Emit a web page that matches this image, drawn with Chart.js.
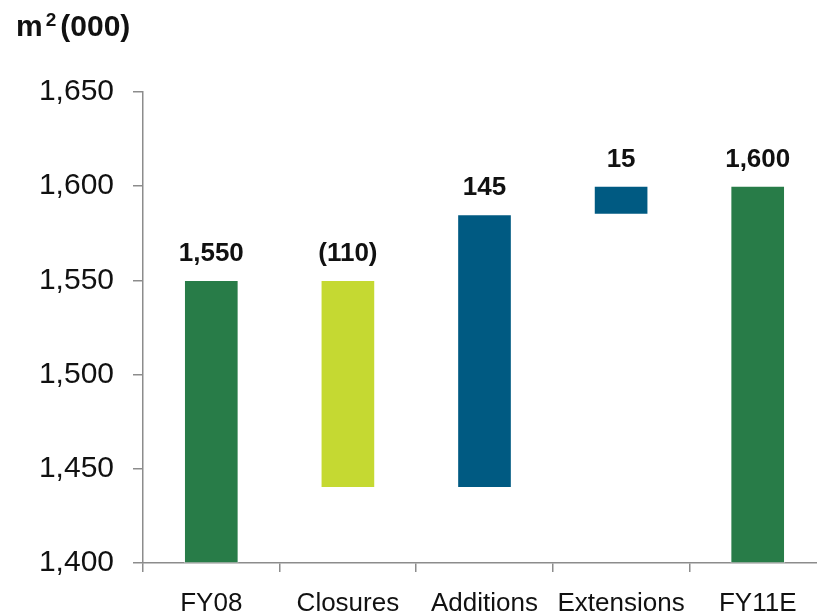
<!DOCTYPE html>
<html lang="en">
<head>
    <meta charset="UTF-8">
    <title>Floor space bridge FY08 - FY11E</title>
    <script src="https://cdn.jsdelivr.net/npm/chart.js"></script>
    <style>
        html, body {
            margin: 0;
            padding: 0;
            background: #ffffff;
            overflow: hidden;
            font-family: "Liberation Sans", Arial, sans-serif;
        }
        #wrap {
            position: relative;
            width: 826px;
            height: 614px;
        }
        #unit {
            position: absolute;
            left: 16px;
            top: 9px;
            font-size: 30px;
            font-weight: bold;
            color: #111;
            white-space: nowrap;
        }
        #unit sup {
            font-size: 19px;
            vertical-align: 10px;
            margin-left: 3px;
            margin-right: 4px;
        }
    </style>
</head>
<body>

<div id="wrap">
    <canvas id="bridgeChart" width="826" height="614"></canvas>
    <div id="unit">m<sup>2</sup>(000)</div>
</div>

<script>
    // m2 (000)
    const categories = ['FY08', 'Closures', 'Additions', 'Extensions', 'FY11E'];
    const values = [1550, -110, 145, 15, 1600];
    const isTotal = [true, false, false, false, true];
    const yTicks = [1400, 1450, 1500, 1550, 1600, 1650];

    const GREEN = '#287c48';
    const LIME = '#c5d932';
    const BLUE = '#005a82';
    const axisMin = yTicks[0];

    // floating bars from the running total
    let running = 0;
    const ranges = [];
    const colors = [];
    values.forEach(function(v, i) {
        if (isTotal[i]) {
            running = v;
            ranges.push([axisMin, v]);
            colors.push(GREEN);
        } else {
            const prev = running;
            running += v;
            ranges.push([Math.min(prev, running), Math.max(prev, running)]);
            colors.push(v < 0 ? LIME : BLUE);
        }
    });

    function fmt(v) {
        const s = Math.abs(v).toLocaleString('en-US');
        return v < 0 ? '(' + s + ')' : s;
    }

    // value above each bar
    const barLabels = {
        id: 'barLabels',
        afterDatasetsDraw(chart) {
            const ctx = chart.ctx;
            const meta = chart.getDatasetMeta(0);
            ctx.save();
            ctx.font = 'bold 26px "Liberation Sans", Arial, sans-serif';
            ctx.fillStyle = '#111';
            ctx.textAlign = 'center';
            ctx.textBaseline = 'alphabetic';
            meta.data.forEach(function(bar, i) {
                const top = chart.scales.y.getPixelForValue(ranges[i][1]);
                ctx.fillText(fmt(values[i]), bar.x, top - 19);
            });
            ctx.restore();
        }
    };

    new Chart(document.getElementById('bridgeChart').getContext('2d'), {
        type: 'bar',
        data: {
            labels: categories,
            datasets: [{
                data: ranges,
                backgroundColor: colors,
                borderColor: 'rgba(255,255,255,0.35)',
                borderWidth: 1,
                borderSkipped: false,
                barThickness: 54
            }]
        },
        options: {
            responsive: false,
            animation: false,
            layout: { padding: { top: 92, right: 0, bottom: 0, left: 0 } },
            plugins: {
                legend: { display: false },
                tooltip: { enabled: false }
            },
            scales: {
                x: {
                    afterFit(scale) { scale.height = 51; },
                    border: { color: '#8c8c8c', width: 1.5 },
                    grid: {
                        offset: true,
                        drawOnChartArea: false,
                        drawTicks: true,
                        tickLength: 9,
                        color: '#8c8c8c',
                        lineWidth: 1.5
                    },
                    ticks: {
                        color: '#111',
                        padding: 16,
                        maxRotation: 0,
                        font: { family: '"Liberation Sans", Arial, sans-serif', size: 26 }
                    }
                },
                y: {
                    min: yTicks[0],
                    max: yTicks[yTicks.length - 1],
                    afterFit(scale) { scale.width = 143; },
                    afterBuildTicks(scale) {
                        scale.ticks = yTicks.map(function(v) { return { value: v }; });
                    },
                    border: { color: '#8c8c8c', width: 1.5 },
                    grid: {
                        drawOnChartArea: false,
                        drawTicks: true,
                        tickLength: 10,
                        color: '#8c8c8c',
                        lineWidth: 1.5
                    },
                    ticks: {
                        color: '#111',
                        padding: 19,
                        font: { family: '"Liberation Sans", Arial, sans-serif', size: 30 },
                        callback: function(v) { return v.toLocaleString('en-US'); }
                    }
                }
            }
        },
        plugins: [barLabels]
    });
</script>

</body>
</html>
